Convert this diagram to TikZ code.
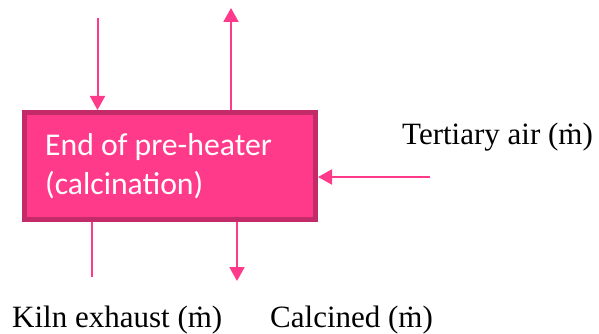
\documentclass[tikz,border=0pt]{standalone}
\usepackage{fontspec}
\setmainfont{Liberation Serif}
\newfontfamily\boxfont{Carlito}
\usetikzlibrary{arrows.meta}
\definecolor{pinkfill}{HTML}{FF3A8A}
\definecolor{pinkedge}{HTML}{C22A68}
\definecolor{pinkline}{HTML}{FF3A8A}
\tikzset{
  flow/.style={draw=pinkline, line width=2pt},
  flowarrow/.style={flow, -{Triangle[length=14pt,width=15pt]}},
  boxtext/.style={anchor=base west, inner sep=0pt, text=white, font=\boxfont\fontsize{31.7}{39}\selectfont},
  label/.style={anchor=base west, inner sep=0pt, font=\fontsize{31}{37}\selectfont},
}
\begin{document}
\begin{tikzpicture}[x=1pt,y=-1pt]
\useasboundingbox (0,0) rectangle (599,334);
\node[draw=pinkedge, fill=pinkfill, line width=5pt, minimum width=291pt, minimum height=107pt, inner sep=0pt] (box) at (170,166) {};
\node[boxtext] (t1) at (45,155) {End of pre-heater};
\node[boxtext] (t2) at (45,194) {(calcination)};
\node[label] (tert) at (402,144) {Tertiary air (\.{m})};
\node[label] (kiln) at (12,327) {Kiln exhaust (\.{m})};
\node[label] (calc) at (270,327) {Calcined (\.{m})};
\coordinate (inA) at (97.5,18);
\coordinate (outB) at (231,8);
\coordinate (inC) at (430,177);
\coordinate (outD) at (92,277);
\coordinate (outE) at (237,281);
\draw[flowarrow] (inA) -- (inA |- box.north);
\draw[flowarrow] (outB |- box.north) -- (outB);
\draw[flowarrow] (inC) -- (inC -| box.east);
\draw[flow] (outD |- box.south) -- (outD);
\draw[flowarrow] (outE |- box.south) -- (outE);
\end{tikzpicture}
\end{document}
